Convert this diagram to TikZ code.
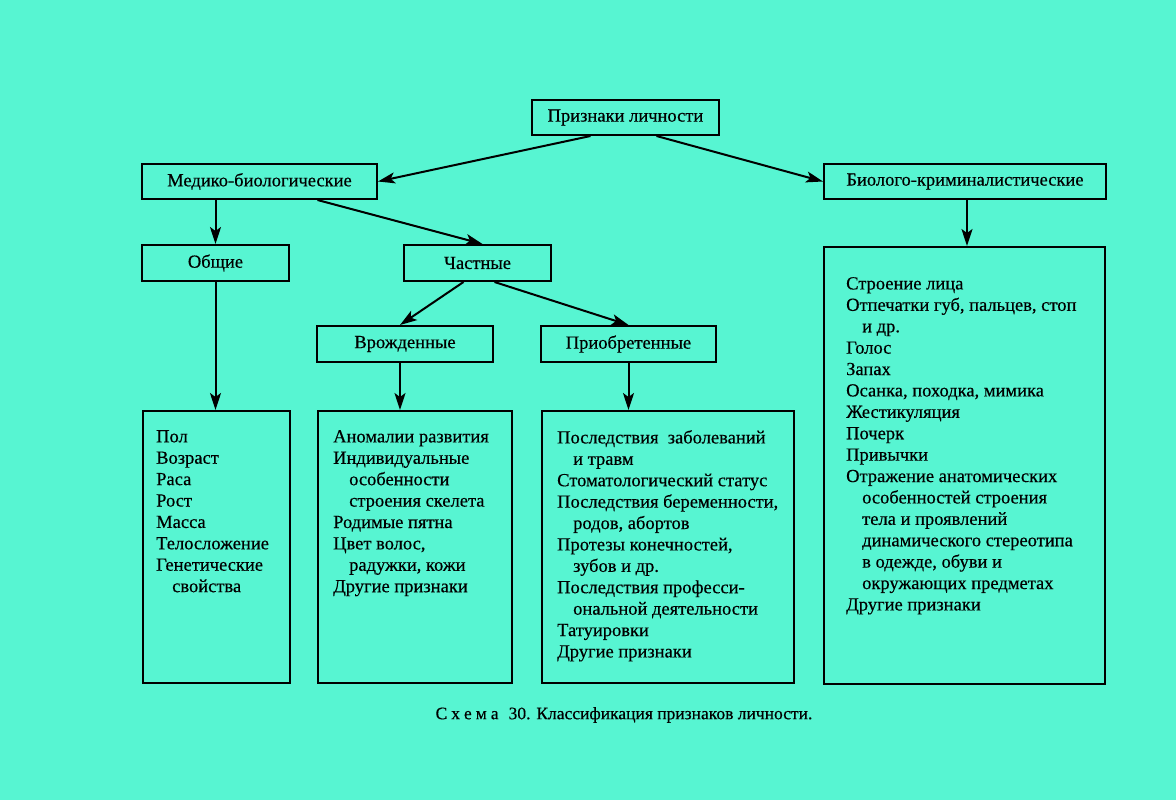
\documentclass[tikz,border=0pt]{standalone}
\usepackage{fontspec}
\setmainfont{Liberation Serif}
\newfontfamily\scanfont{Liberation Serif}[FakeBold=0.4]
\usetikzlibrary{arrows.meta}
\usetikzlibrary{positioning,calc}
\definecolor{bgcyan}{RGB}{87,245,210}
\newcommand{\contline}{\\\hspace*{16pt}}

\begin{document}
\begin{tikzpicture}[x=1pt,y=-1pt]
		\fill[bgcyan] (0,0) rectangle (1176,800);
		\useasboundingbox (0,0) rectangle (1176,800);
		% headings
		\begin{scope}[every node/.style={rectangle,draw,line width=2pt,inner sep=0pt,font=\scanfont\fontsize{18.5}{21.4}\selectfont}]
			\node[minimum width=187pt,minimum height=35pt] (pl) at (625.5,117.5) {Признаки личности};

			\node[minimum width=235pt,minimum height=35pt] (med) at (259.5,181.5) {Медико-биологические};
			\node[minimum width=282pt,minimum height=35pt] (bio) at (965,181.5) {Биолого-криминалистические};

			\node[minimum width=147pt,minimum height=36pt] (obs) at (215.5,263) {Общие};
			\node[minimum width=147pt,minimum height=36pt] (cha) at (477.5,263) {Частные};

			\node[minimum width=176pt,minimum height=36pt] (vro) at (405,344) {Врожденные};
			\node[minimum width=175pt,minimum height=36pt] (pri) at (628.5,344) {Приобретенные};
		\end{scope}
		% big boxes
		\begin{scope}[every node/.style={rectangle,draw,line width=2pt,inner sep=0pt,anchor=north west}]
			\node[minimum width=147pt,minimum height=272pt] (obsbox) at (142,410) {};
			\node[minimum width=194pt,minimum height=272pt] (vrobox) at (317,410) {};
			\node[minimum width=252pt,minimum height=272pt] (pribox) at (541,410) {};
			\node[minimum width=281pt,minimum height=437pt] (biobox) at (823,246) {};
		\end{scope}
		% lists
		\begin{scope}[every node/.style={inner sep=0pt,anchor=north west,align=left,font=\scanfont\fontsize{18.5}{21.4}\selectfont}]
			\node (obslist) at ($(obsbox.north west)+(14,20)$) {Пол\\Возраст\\Раса\\Рост\\Масса\\Телосложение\\Генетические\contline свойства};
			\node (vrolist) at ($(vrobox.north west)+(16,20)$) {Аномалии развития\\Индивидуальные\contline особенности\contline строения скелета\\Родимые пятна\\Цвет волос,\contline радужки, кожи\\Другие признаки};
			\node (prilist) at ($(pribox.north west)+(16,20)$) {Последствия\ \ заболеваний\contline и травм\\Стоматологический статус\\Последствия беременности,\contline родов, абортов\\Протезы конечностей,\contline зубов и др.\\Последствия професси-\contline ональной деятельности\\Татуировки\\Другие признаки};
			\node (biolist) at ($(biobox.north west)+(23,31)$) {Строение лица\\Отпечатки губ, пальцев, стоп\contline и др.\\Голос\\Запах\\Осанка, походка, мимика\\Жестикуляция\\Почерк\\Привычки\\Отражение анатомических\contline особенностей строения\contline тела и проявлений\contline динамического стереотипа\contline в одежде, обуви и\contline окружающих предметах\\Другие признаки};
		\end{scope}
		% arrows
		\begin{scope}[line width=2pt,>={Stealth[length=17pt,width=11pt,inset=4pt]}]
			\draw[->] ([xshift=-35pt]pl.south) -- (med.east);
			\draw[->] ([xshift=31pt]pl.south) -- (bio.west);

			\draw[->] (med.south -| obs.north) -- (obs.north);
			\draw[->] ([xshift=58pt]med.south) -- ([xshift=5pt]cha.north);
			\draw[->] ([xshift=2pt]bio.south) -- ([xshift=2pt]bio.south |- biobox.north);

			\draw[->] (obs.south) -- (obs.south |- obsbox.north);
			\draw[->] ([xshift=-14pt]cha.south) -- ([xshift=-5pt]vro.north);
			\draw[->] ([xshift=17pt]cha.south) -- (pri.north);

			\draw[->] ([xshift=-5pt]vro.south) -- ([xshift=-5pt]vro.south |- vrobox.north);
			\draw[->] (pri.south) -- (pri.south |- pribox.north);
		\end{scope}
		\node[font=\scanfont\fontsize{17.5}{20}\selectfont] (caption) at (624,715) {С\kern4pt х\kern4pt е\kern4pt м\kern4pt а\kern10pt 30. Классификация признаков личности.};
	\end{tikzpicture}
\end{document}
